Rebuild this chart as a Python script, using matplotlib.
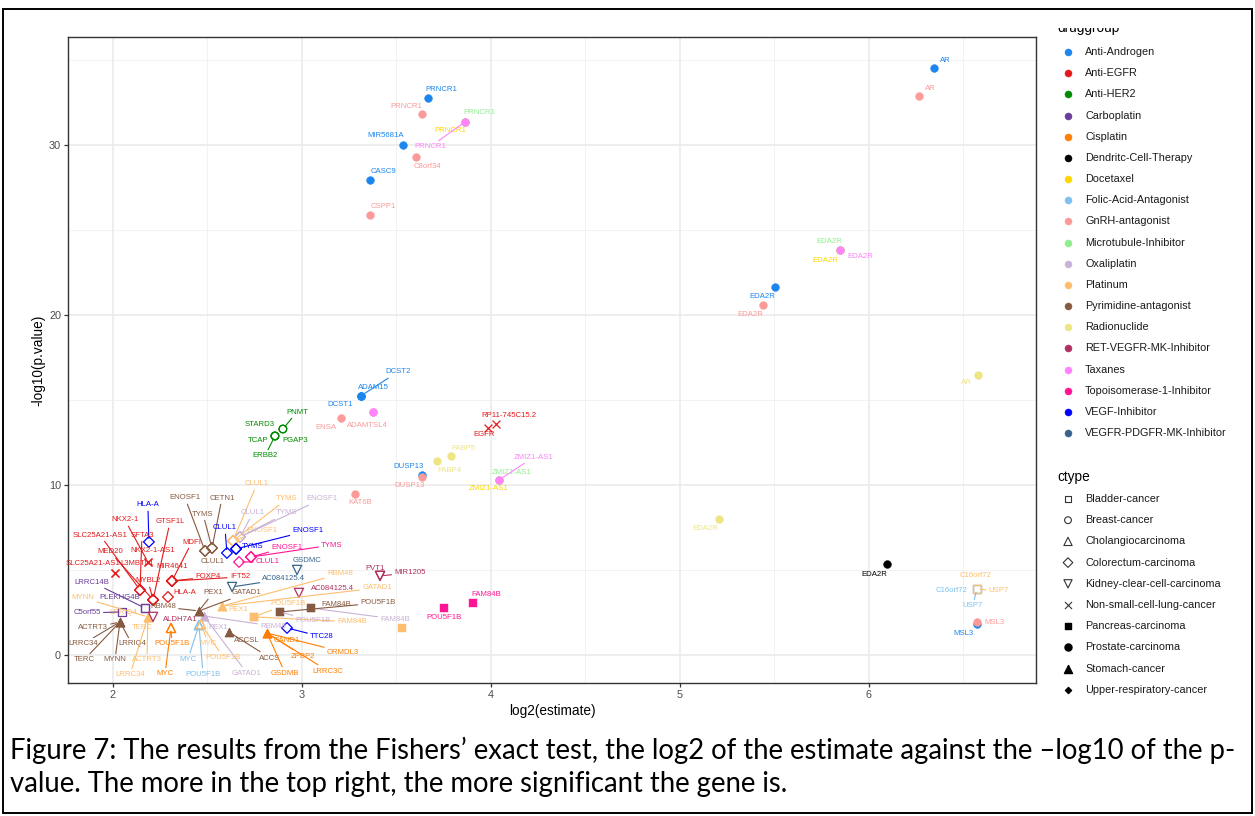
import matplotlib
matplotlib.use("Agg")
import matplotlib.pyplot as plt
from matplotlib.patches import Rectangle

W, H = 1255, 816
plt.rcParams["font.family"] = ["Liberation Sans", "DejaVu Sans"]

# ---- legend definitions -------------------------------------------------
drug_keys = ["AA", "EGFR", "HER2", "CARBO", "CIS", "DC", "DOC", "FOL", "GNRH", "MT",
             "OXA", "PLAT", "PYR", "RAD", "RET", "TAX", "TOPO", "VEGF", "VPDG"]
drug_names = ["Anti-Androgen", "Anti-EGFR", "Anti-HER2", "Carboplatin", "Cisplatin",
              "Dendritc-Cell-Therapy", "Docetaxel", "Folic-Acid-Antagonist", "GnRH-antagonist",
              "Microtubule-Inhibitor", "Oxaliplatin", "Platinum", "Pyrimidine-antagonist",
              "Radionuclide", "RET-VEGFR-MK-Inhibitor", "Taxanes", "Topoisomerase-1-Inhibitor",
              "VEGF-Inhibitor", "VEGFR-PDGFR-MK-Inhibitor"]
drug_colors = ["#1C86EE", "#E31A1C", "#008B00", "#6A3D9A", "#FF7F00", "#000000", "#FFD700",
               "#7EC0EE", "#FB9A99", "#90EE90", "#CAB2D6", "#FDBF6F", "#865A40", "#EEE685",
               "#B03060", "#FF83FA", "#FF1493", "#0000FF", "#36648B"]
ctype_keys = ["BLAD", "BRST", "CHOL", "CRC", "KID", "NSCLC", "PANC", "PROS", "STOM", "URC"]
ctype_names = ["Bladder-cancer", "Breast-cancer", "Cholangiocarcinoma", "Colorectum-carcinoma",
               "Kidney-clear-cell-carcinoma", "Non-small-cell-lung-cancer", "Pancreas-carcinoma",
               "Prostate-carcinoma", "Stomach-cancer", "Upper-respiratory-cancer"]

# ---- data (gene, drug group, cancer type, log2 estimate, -log10 p) ------
genes = [
    "AR", "AR", "PRNCR1", "PRNCR1", "PRNCR1", "PRNCR1", "PRNCR1", "MIR5681A", "C8orf34", "CASC9", "CSPP1",
    "EDA2R", "EDA2R", "EDA2R", "EDA2R", "EDA2R", "AR", "ADAM15", "DCST1", "DCST2", "ADAMTSL4", "", "ENSA",
    "EGFR", "RP11-745C15.2", "FABP5", "FABP4", "DUSP13", "DUSP13", "ZMIZ1-AS1", "ZMIZ1-AS1", "ZMIZ1-AS1",
    "KAT6B", "EDA2R", "EDA2R",
    "C16orf72", "USP7", "C16orf72", "USP7", "MSL3", "MSL3", "FAM84B", "POU5F1B",
    "STARD3", "PNMT", "TCAP", "PGAP3", "ERBB2",
    "HLA-A", "SLC25A21-AS1", "SFTA3", "MED20", "GTSF1L", "MYBL2", "HLA-A", "MDFI", "MIR4641", "FOXP4",
    "IFT52", "NKX2-1", "NKX2-1-AS1", "SLC25A21-AS1", "L3MBTL1",
    "ENOSF1", "CLUL1", "CETN1", "TYMS", "CLUL1", "TYMS", "ENOSF1", "CLUL1", "TYMS", "ENOSF1", "ENOSF1",
    "CLUL1", "TYMS", "CLUL1", "ENOSF1", "TYMS", "TTC28",
    "GSDMC", "AC084125.4", "AC084125.4", "PVT1", "MIR1205", "ALDH7A1",
    "PEX1", "RBM48", "GATAD1", "PEX1", "GATAD1", "RBM48", "PEX1", "GATAD1", "RBM48", "ACCSL", "ACCS",
    "ACTRT3", "LRRC34", "LRRIQ4", "TERC", "MYNN", "MYNN", "TERC", "ACTRT3", "LRRC34", "LRRIQ4",
    "CAND1", "ZPBP2", "ORMDL3", "LRRC3C", "GSDMB",
    "POU5F1B", "MYC", "MYC", "POU5F1B", "MYC", "POU5F1B",
    "C5orf55", "LRRC14B", "PLEKHG4B",
    "POU5F1B", "FAM84B", "", "POU5F1B", "FAM84B", "POU5F1B", "FAM84B",
]
drugs = [
    "AA", "GNRH", "AA", "GNRH", "MT", "DOC", "TAX", "AA", "GNRH", "AA", "GNRH",
    "MT", "DOC", "TAX", "AA", "GNRH", "RAD", "AA", "AA", "AA", "GNRH", "TAX", "GNRH",
    "EGFR", "EGFR", "RAD", "RAD", "AA", "GNRH", "TAX", "MT", "DOC", "GNRH", "RAD", "DC",
    "PLAT", "PLAT", "FOL", "FOL", "AA", "GNRH", "TOPO", "TOPO",
    "HER2", "HER2", "HER2", "HER2", "HER2",
    "VEGF", "EGFR", "EGFR", "EGFR", "EGFR", "EGFR", "EGFR", "EGFR", "EGFR", "EGFR", "EGFR",
    "EGFR", "EGFR", "EGFR", "EGFR",
    "PYR", "PYR", "PYR", "PYR", "VEGF", "VEGF", "VEGF", "PLAT", "PLAT", "PLAT", "OXA", "OXA", "OXA",
    "TOPO", "TOPO", "TOPO", "VEGF",
    "VPDG", "VPDG", "RET", "RET", "RET", "RET",
    "PLAT", "PLAT", "PLAT", "PYR", "PYR", "PYR", "OXA", "OXA", "OXA", "PYR", "PYR",
    "PYR", "PYR", "PYR", "PYR", "PYR", "PLAT", "PLAT", "PLAT", "PLAT", "PLAT",
    "CIS", "CIS", "CIS", "CIS", "CIS",
    "CIS", "CIS", "FOL", "FOL", "PLAT", "PLAT",
    "CARBO", "CARBO", "CARBO",
    "PLAT", "PLAT", "PLAT", "OXA", "OXA", "PYR", "PYR",
]
ctypes = (["PROS"] * 11 + ["PROS"] * 12 + ["NSCLC"] * 2 + ["PROS"] * 10
          + ["BLAD"] * 4 + ["PROS"] * 2 + ["PANC"] * 2
          + ["BRST"] * 5
          + ["CRC"] * 11 + ["NSCLC"] * 4
          + ["CRC"] * 17
          + ["KID"] * 6
          + ["STOM"] * 26
          + ["CHOL"] * 6
          + ["BLAD"] * 3
          + ["PANC"] * 7)
log2_est = [
    6.344, 6.265, 3.667, 3.635, 3.862, 3.862, 3.862, 3.534, 3.603, 3.360, 3.360,
    5.847, 5.847, 5.847, 5.503, 5.439, 6.577, 3.312, 3.312, 3.312, 3.376, 3.376, 3.206,
    3.984, 4.026, 3.788, 3.714, 3.635, 3.635, 4.042, 4.042, 4.042, 3.280, 5.206, 6.095,
    6.571, 6.571, 6.571, 6.571, 6.571, 6.571, 3.905, 3.751,
    2.899, 2.899, 2.857, 2.857, 2.857,
    2.190, 2.143, 2.143, 2.212, 2.212, 2.212, 2.291, 2.312, 2.312, 2.312, 2.312,
    2.185, 2.185, 2.011, 2.011,
    2.487, 2.487, 2.524, 2.524, 2.603, 2.651, 2.651, 2.635, 2.635, 2.635, 2.672, 2.672, 2.672,
    2.667, 2.730, 2.730, 2.921,
    2.974, 2.630, 2.984, 3.413, 3.413, 2.212,
    2.577, 2.577, 2.577, 2.455, 2.455, 2.455, 2.481, 2.481, 2.481, 2.614, 2.614,
    2.037, 2.037, 2.037, 2.037, 2.037, 2.185, 2.185, 2.185, 2.185, 2.185,
    2.815, 2.815, 2.815, 2.815, 2.815,
    2.307, 2.307, 2.455, 2.455, 2.466, 2.466,
    2.048, 2.169, 2.169,
    2.746, 2.746, 3.529, 2.884, 3.048, 2.884, 3.048,
]
neglog10_p = [
    34.53, 32.88, 32.76, 31.82, 31.35, 31.35, 31.35, 30.00, 29.29, 27.94, 25.88,
    23.82, 23.82, 23.82, 21.65, 20.59, 16.47, 15.24, 15.24, 15.24, 14.29, 14.29, 13.94,
    13.35, 13.59, 11.71, 11.41, 10.59, 10.47, 10.29, 10.29, 10.29, 9.47, 8.00, 5.35,
    3.88, 3.88, 3.88, 3.88, 1.82, 1.94, 3.06, 2.76,
    13.29, 13.29, 12.88, 12.88, 12.88,
    6.65, 3.82, 3.82, 3.24, 3.24, 3.24, 3.41, 4.35, 4.35, 4.35, 4.35,
    5.47, 5.47, 4.82, 4.82,
    6.12, 6.12, 6.29, 6.29, 6.00, 6.24, 6.24, 6.71, 6.71, 6.71, 6.94, 6.94, 6.94,
    5.47, 5.76, 5.76, 1.59,
    5.00, 4.00, 3.65, 4.65, 4.65, 2.24,
    2.88, 2.88, 2.88, 2.59, 2.59, 2.59, 2.29, 2.29, 2.29, 1.35, 1.35,
    1.94, 1.94, 1.94, 1.94, 1.94, 2.24, 2.24, 2.24, 2.24, 2.24,
    1.29, 1.29, 1.29, 1.29, 1.29,
    1.59, 1.59, 1.76, 1.76, 1.82, 1.82,
    2.53, 2.76, 2.76,
    2.24, 2.24, 1.59, 2.53, 2.76, 2.53, 2.76,
]

# ---- repelled label offsets (pixels, y up) ------------------------------
label_dx = [
    11, 11, 13, -16, 14, -15, -35, -17, 12, 13, 13,
    -11, -15, 20, -13, -13, -12, 12, -21, 37, -6, 0, -15,
    -4, 13, 12, 13, -13, -12, 35, 13, -10, 5, -14, -13,
    -1, 22, -25, -4, -13, 18, 13, 0,
    -23, 14, -17, 20, -10,
    -1, -40, 2, -43, 17, -5, 17, 20, 0, 36, 68,
    -23, 5, -22, 22,
    -20, 8, 10, -9, -2, 17, 72, 24, 54, 29, 82, 13, 47,
    29, 36, 81, 35,
    10, 52, 34, -5, 30, 27,
    16, 118, 155, 14, 48, -36, 14, 43, 69, 18, 41,
    -27, -37, 12, -36, -5, -65, -6, -1, -18, -25,
    20, 36, 76, 61, 18,
    1, -6, -11, 4, 7, 22,
    -35, -53, -25,
    34, 98, 0, 33, 84, 98, 25,
]
label_dy = [
    7, 7, 9, 8, 9, -9, -25, 9, -9, 8, 8,
    9, -10, -6, -10, -10, -8, 8, -9, 24, -13, 0, -10,
    -6, 8, 7, -10, 8, -9, 23, 8, -8, -9, -10, -10,
    13, -2, -2, -17, -9, -1, 8, -9,
    5, 17, -5, -5, -20,
    37, 55, 55, 48, 78, 19, 4, 39, 14, 4, 4,
    42, 11, 10, 10,
    53, -11, 50, 34, 25, 2, 18, 57, 42, 10, 38, 24, 24,
    0, 10, 12, -9,
    9, 8, 4, 7, 3, -3,
    -4, 32, 18, 18, 18, 4, -11, -57, -10, -9, -26,
    -6, -22, -22, -38, -38, 19, -11, -43, -58, 4,
    -7, -23, -19, -38, -40,
    -16, -46, -34, -49, -19, -33,
    -1, 26, 11,
    13, -5, 0, -9, -11, 9, 4,
]

assert len({len(genes), len(drugs), len(ctypes), len(log2_est), len(neglog10_p),
            len(label_dx), len(label_dy)}) == 1

color_of = dict(zip(drug_keys, drug_colors))
shape_of = {  # marker, filled, size
    "BLAD": ("s", False, 28), "BRST": ("o", False, 30), "CHOL": ("^", False, 44),
    "CRC": ("D", False, 30), "KID": ("v", False, 44), "NSCLC": ("x", False, 32),
    "PANC": ("s", True, 30), "PROS": ("o", True, 32), "STOM": ("^", True, 42),
    "URC": ("D", True, 12),
}

fig = plt.figure(figsize=(W / 100, H / 100), dpi=100)
fig.patch.set_facecolor("white")
ax = fig.add_axes([68 / W, 1 - 683 / H, (1036 - 68) / W, (683 - 37) / H])
ax.set_xlim(1.762, 6.884)
ax.set_ylim(-1.65, 36.35)
ax.set_xticks([2, 3, 4, 5, 6])
ax.set_yticks([0, 10, 20, 30])
ax.set_xticks([2.5, 3.5, 4.5, 5.5, 6.5], minor=True)
ax.set_yticks([5, 15, 25, 35], minor=True)
ax.set_axisbelow(True)
ax.grid(which="major", color="#EBEBEB", lw=1.2)
ax.grid(which="minor", color="#F0F0F0", lw=0.6)
for s in ax.spines.values():
    s.set_color("#333333")
    s.set_linewidth(1.0)
ax.tick_params(which="major", length=3, width=0.9, color="#333333", labelsize=7.8,
               labelcolor="#4D4D4D", pad=2)
ax.tick_params(which="minor", length=0)

# points, drawn group by group like ggplot
order = sorted(range(len(genes)), key=lambda i: drug_keys.index(drugs[i]))
for i in order:
    col = color_of[drugs[i]]
    m, filled, s = shape_of[ctypes[i]]
    if m == "x":
        ax.scatter(log2_est[i], neglog10_p[i], marker=m, s=s, c=col, linewidths=0.9, zorder=3)
    elif filled:
        ax.scatter(log2_est[i], neglog10_p[i], marker=m, s=s, c=col, edgecolors=col,
                   linewidths=0.3, zorder=3)
    else:
        ax.scatter(log2_est[i], neglog10_p[i], marker=m, s=s, facecolors="none",
                   edgecolors=col, linewidths=0.9, zorder=3)

# labels with leader segments
for g, d, x, y, dx, dy in zip(genes, drugs, log2_est, neglog10_p, label_dx, label_dy):
    if not g:
        continue
    col = color_of[d]
    gap = max(abs(dx) - 2.4 * len(g), abs(dy) - 4)
    arrow = (dict(arrowstyle="-", color=col, lw=0.8, shrinkA=0, shrinkB=2.5)
             if gap > 11.5 else None)
    ax.annotate(g, (x, y), xytext=(dx, dy), textcoords="offset pixels", ha="center",
                va="center", fontsize=5.6, color=col, arrowprops=arrow, zorder=4,
                annotation_clip=False)

# ---- overlay in pixel coordinates: axis titles, legends, frame, caption
ov = fig.add_axes([0, 0, 1, 1])
ov.set_xlim(0, W)
ov.set_ylim(H, 0)
ov.axis("off")

ov.text(552, 711, "log2(estimate)", fontsize=9.8, ha="center", va="center")
ov.text(38, 360, "-log10(p.value)", fontsize=9.8, ha="center", va="center", rotation=90)

ov.text(1057, 32, "druggroup", fontsize=9.8, ha="left", va="baseline")
ov.add_patch(Rectangle((1040, 11), 213, 17, facecolor="white", edgecolor="none", zorder=5))
for k, (name, col) in enumerate(zip(drug_names, drug_colors)):
    yy = 52 + k * 21.17
    ov.scatter(1068, yy, s=26, c=col, edgecolors=col, linewidths=0.3)
    ov.text(1085, yy, name, fontsize=7.8, ha="left", va="center", color="#1A1A1A")

ov.text(1057, 477, "ctype", fontsize=9.8, ha="left", va="center")
for k, (key, name) in enumerate(zip(ctype_keys, ctype_names)):
    yy = 499 + k * 21.2
    m, filled, s = shape_of[key]
    if m == "x":
        ov.scatter(1068, yy, marker=m, s=s * 0.8, c="#333333", linewidths=0.8)
    elif filled:
        ov.scatter(1068, yy, marker=m, s=s * 0.8, c="black")
    else:
        ov.scatter(1068, yy, marker=m, s=s * 0.8, facecolors="none", edgecolors="#333333",
                   linewidths=0.8)
    ov.text(1085, yy, name, fontsize=7.8, ha="left", va="center", color="#1A1A1A")

ov.add_patch(Rectangle((3, 9), 1249, 804, facecolor="none", edgecolor="black", lw=1.4,
                       zorder=6))

caption = ["Figure 7: The results from the Fishers\u2019 exact test, the log2 of the estimate "
           "against the \u2013log10 of the p-",
           "value. The more in the top right, the more significant the gene is."]
c1 = ov.text(10, 750, caption[0], fontsize=14, family=["Lato", "DejaVu Sans"], ha="left",
             va="center")
fig.canvas.draw()
fs = 14 * 1230 / c1.get_window_extent().width
c1.set_fontsize(fs)
ov.text(10, 784, caption[1], fontsize=fs, family=["Lato", "DejaVu Sans"], ha="left",
        va="center")

fig.savefig("out.png", dpi=100)
